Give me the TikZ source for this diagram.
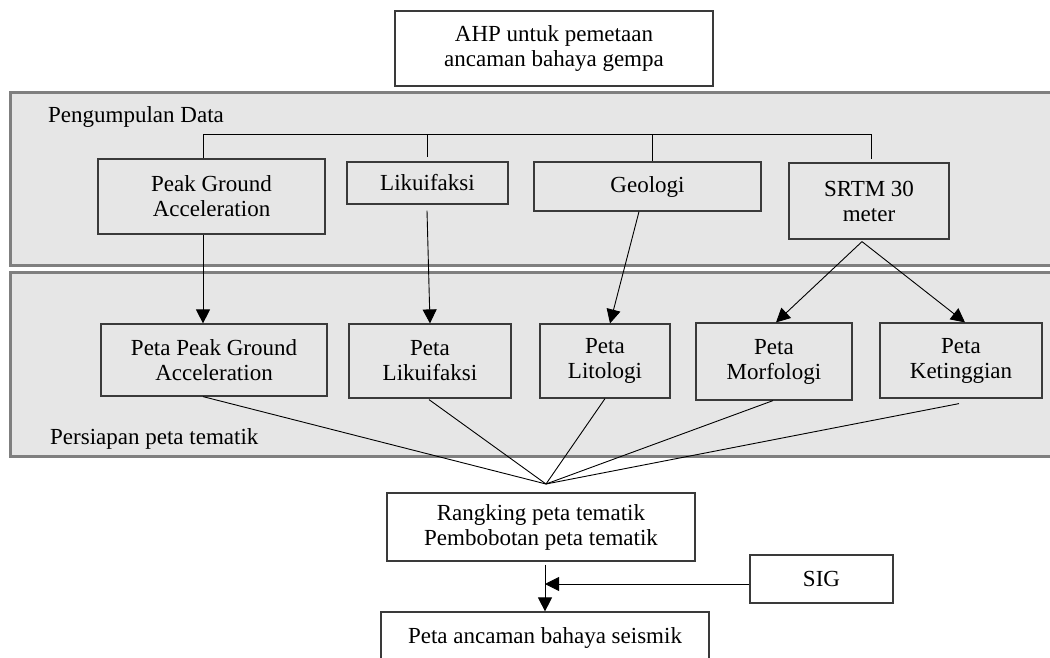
\documentclass[tikz,border=0pt]{standalone}
\usepackage{fontspec}
\setmainfont{Liberation Serif}
\usetikzlibrary{arrows.meta}
\definecolor{bandfill}{HTML}{E6E6E6}
\definecolor{bandline}{HTML}{7F7F7F}
\definecolor{boxline}{HTML}{3A3A3A}
\tikzset{
  box/.style={draw=boxline, line width=1.2pt, align=center, inner sep=0pt,
    font=\fontsize{23}{25}\selectfont},
  band/.style={fill=bandfill, draw=bandline, line width=3pt},
  lbl/.style={anchor=base west, inner sep=0pt, font=\fontsize{23}{25}\selectfont},
  conn/.style={draw=black, line width=0.9pt},
  arr/.style={conn, -{Triangle[length=14pt,width=14pt]}},
}
\begin{document}
\begin{tikzpicture}[x=1pt,y=-1pt]
\useasboundingbox (0,0) rectangle (1050,657);
\clip (0,0) rectangle (1050,657);
% bands
\path[band] (10,92) rectangle (1065,265);
\path[band] (10,272) rectangle (1065,456);
\node[lbl] (lab1) at (48,122) {Pengumpulan Data};
\node[lbl] (lab2) at (50,444) {Persiapan peta tematik};
% top
\node[box, minimum width=318pt, minimum height=75pt] (ahp) at (554,48.5) {AHP untuk pemetaan\\ancaman bahaya gempa};
% data boxes
\node[box, minimum width=227pt, minimum height=75pt] (pga) at (211.5,196.5) {Peak Ground\\Acceleration};
\node[box, minimum width=161pt, minimum height=42pt] (lik) at (427.5,183) {Likuifaksi};
\node[box, minimum width=227pt, minimum height=49pt] (geo) at (647.5,186.5) {Geologi};
\node[box, minimum width=160pt, minimum height=76pt] (srtm) at (869,201) {SRTM 30\\meter};
% map boxes
\node[box, minimum width=226pt, minimum height=72pt] (ppga) at (214,360) {Peta Peak Ground\\Acceleration};
\node[box, minimum width=162pt, minimum height=74pt] (plik) at (430,361) {Peta\\Likuifaksi};
\node[box, minimum width=130pt, minimum height=74pt] (plit) at (605,361) {Peta\\Litologi};
\node[box, minimum width=156pt, minimum height=77pt] (pmor) at (774,361.5) {Peta\\Morfologi};
\node[box, minimum width=162pt, minimum height=75pt] (pket) at (961,360.5) {Peta\\Ketinggian};
% lower
\node[box, fill=white, minimum width=308pt, minimum height=68pt] (rank) at (541,527) {Rangking peta tematik\\Pembobotan peta tematik};
\node[box, fill=white, minimum width=143pt, minimum height=48pt] (sig) at (821.5,579) {SIG};
\node[box, fill=white, anchor=base, minimum width=328pt, inner ysep=15pt, text height=16pt, text depth=40pt] (out) at (545,643) {Peta ancaman bahaya seismik};
% bus
\coordinate (b1) at (203,134);
\coordinate (b2) at (427,134);
\coordinate (b3) at (652,134);
\coordinate (b4) at (871,134);
\draw[conn] (b1 |- pga.north) -- (b1) -- (b4) -- ([yshift=3pt]b4 |- srtm.north);
\draw[conn] (b2) -- ([yshift=4pt]b2 |- lik.north);
\draw[conn] (b3) -- (b3 |- geo.north);
% data to maps
\draw[arr] (b1 |- pga.south) -- (b1 |- ppga.north);
\draw[arr] ([yshift=-6pt]b2 |- lik.south) -- ([xshift=3pt]b2 |- plik.north);
\draw[arr] ([xshift=-8.5pt]geo.south) -- ([xshift=5pt]plit.north);
\coordinate (sb) at ([xshift=-7pt,yshift=-2pt]srtm.south);
\draw[arr] (sb) -- ([xshift=2pt]pmor.north);
\draw[arr] (sb) -- ([xshift=4pt]pket.north);
% convergence
\coordinate (cv) at (546,484);
\draw[conn] ([xshift=-11pt]ppga.south) -- (cv);
\draw[conn] ([xshift=-1pt,yshift=-1pt]plik.south) -- (cv);
\draw[conn] (plit.south) -- (cv);
\draw[conn] ([xshift=-1pt]pmor.south) -- (cv);
\draw[conn] ([xshift=-2pt,yshift=-5pt]pket.south) -- (cv);
% bottom
\coordinate (sj) at (545,584);
\draw[arr] ([yshift=-3pt]rank.south -| out.north) -- (out.north);
\draw[arr] (sig.west |- sj) -- (sj);
\end{tikzpicture}
\end{document}
